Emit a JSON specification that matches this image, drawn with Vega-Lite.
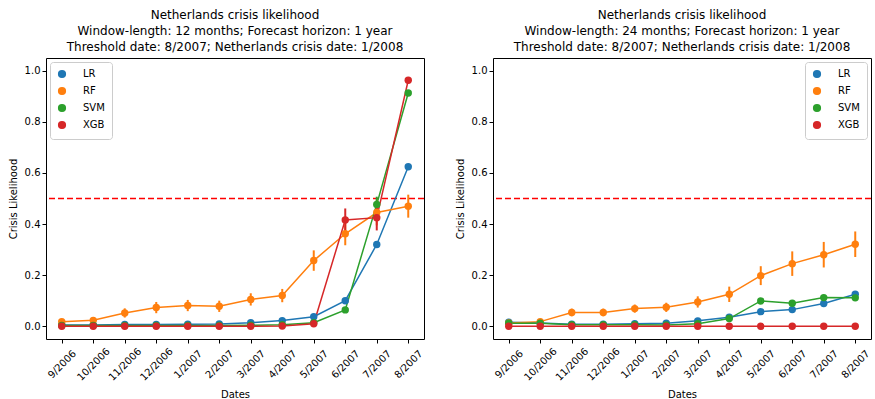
{
  "$schema": "https://vega.github.io/schema/vega-lite/v6.json",
  "padding": {"left": 7, "top": 8, "right": 0, "bottom": 0},
  "spacing": 28,
  "config": {
    "font": "DejaVu Sans",
    "view": {"stroke": "black", "strokeWidth": 1},
    "axis": {"grid": false, "domain": false, "tickColor": "black", "tickSize": 4, "labelColor": "black", "labelFontSize": 10, "titleFontSize": 10, "titleFontWeight": "normal", "titleColor": "black", "labelFont": "DejaVu Sans", "titleFont": "DejaVu Sans"},
    "title": {"fontSize": 12, "fontWeight": "normal", "color": "black", "lineHeight": 16, "font": "DejaVu Sans", "offset": 4},
    "legend": {"labelFontSize": 10, "labelFont": "DejaVu Sans", "labelColor": "black", "symbolType": "circle", "symbolSize": 45, "strokeColor": "#cccccc", "fillColor": "white", "padding": 7, "cornerRadius": 3, "rowPadding": 3, "offset": 4, "labelOffset": 16}
  },
  "datasets": {
    "thr": [{"t": 0.5}],
    "rows": [
      {"p":"a","d":"9/2006","m":"LR","v":0.005,"lo":0.005,"hi":0.005},
      {"p":"a","d":"10/2006","m":"LR","v":0.005,"lo":0.005,"hi":0.005},
      {"p":"a","d":"11/2006","m":"LR","v":0.007,"lo":0.007,"hi":0.007},
      {"p":"a","d":"12/2006","m":"LR","v":0.007,"lo":0.007,"hi":0.007},
      {"p":"a","d":"1/2007","m":"LR","v":0.008,"lo":0.008,"hi":0.008},
      {"p":"a","d":"2/2007","m":"LR","v":0.009,"lo":0.009,"hi":0.009},
      {"p":"a","d":"3/2007","m":"LR","v":0.014,"lo":0.014,"hi":0.014},
      {"p":"a","d":"4/2007","m":"LR","v":0.022,"lo":0.022,"hi":0.022},
      {"p":"a","d":"5/2007","m":"LR","v":0.037,"lo":0.037,"hi":0.037},
      {"p":"a","d":"6/2007","m":"LR","v":0.100,"lo":0.100,"hi":0.100},
      {"p":"a","d":"7/2007","m":"LR","v":0.320,"lo":0.320,"hi":0.320},
      {"p":"a","d":"8/2007","m":"LR","v":0.624,"lo":0.624,"hi":0.624},
      {"p":"a","d":"9/2006","m":"RF","v":0.018,"lo":0.010,"hi":0.026},
      {"p":"a","d":"10/2006","m":"RF","v":0.023,"lo":0.013,"hi":0.033},
      {"p":"a","d":"11/2006","m":"RF","v":0.052,"lo":0.034,"hi":0.070},
      {"p":"a","d":"12/2006","m":"RF","v":0.073,"lo":0.051,"hi":0.095},
      {"p":"a","d":"1/2007","m":"RF","v":0.081,"lo":0.059,"hi":0.103},
      {"p":"a","d":"2/2007","m":"RF","v":0.078,"lo":0.056,"hi":0.100},
      {"p":"a","d":"3/2007","m":"RF","v":0.105,"lo":0.081,"hi":0.129},
      {"p":"a","d":"4/2007","m":"RF","v":0.120,"lo":0.094,"hi":0.146},
      {"p":"a","d":"5/2007","m":"RF","v":0.257,"lo":0.217,"hi":0.297},
      {"p":"a","d":"6/2007","m":"RF","v":0.362,"lo":0.317,"hi":0.407},
      {"p":"a","d":"7/2007","m":"RF","v":0.445,"lo":0.395,"hi":0.495},
      {"p":"a","d":"8/2007","m":"RF","v":0.470,"lo":0.425,"hi":0.515},
      {"p":"a","d":"9/2006","m":"SVM","v":0.003,"lo":0.003,"hi":0.003},
      {"p":"a","d":"10/2006","m":"SVM","v":0.003,"lo":0.003,"hi":0.003},
      {"p":"a","d":"11/2006","m":"SVM","v":0.003,"lo":0.003,"hi":0.003},
      {"p":"a","d":"12/2006","m":"SVM","v":0.003,"lo":0.003,"hi":0.003},
      {"p":"a","d":"1/2007","m":"SVM","v":0.003,"lo":0.003,"hi":0.003},
      {"p":"a","d":"2/2007","m":"SVM","v":0.003,"lo":0.003,"hi":0.003},
      {"p":"a","d":"3/2007","m":"SVM","v":0.004,"lo":0.004,"hi":0.004},
      {"p":"a","d":"4/2007","m":"SVM","v":0.006,"lo":0.006,"hi":0.006},
      {"p":"a","d":"5/2007","m":"SVM","v":0.014,"lo":0.014,"hi":0.014},
      {"p":"a","d":"6/2007","m":"SVM","v":0.064,"lo":0.060,"hi":0.068},
      {"p":"a","d":"7/2007","m":"SVM","v":0.477,"lo":0.447,"hi":0.507},
      {"p":"a","d":"8/2007","m":"SVM","v":0.913,"lo":0.905,"hi":0.921},
      {"p":"a","d":"9/2006","m":"XGB","v":0.0,"lo":0.0,"hi":0.0},
      {"p":"a","d":"10/2006","m":"XGB","v":0.0,"lo":0.0,"hi":0.0},
      {"p":"a","d":"11/2006","m":"XGB","v":0.0,"lo":0.0,"hi":0.0},
      {"p":"a","d":"12/2006","m":"XGB","v":0.0,"lo":0.0,"hi":0.0},
      {"p":"a","d":"1/2007","m":"XGB","v":0.0,"lo":0.0,"hi":0.0},
      {"p":"a","d":"2/2007","m":"XGB","v":0.0,"lo":0.0,"hi":0.0},
      {"p":"a","d":"3/2007","m":"XGB","v":0.0,"lo":0.0,"hi":0.0},
      {"p":"a","d":"4/2007","m":"XGB","v":0.001,"lo":0.001,"hi":0.001},
      {"p":"a","d":"5/2007","m":"XGB","v":0.010,"lo":0.006,"hi":0.014},
      {"p":"a","d":"6/2007","m":"XGB","v":0.416,"lo":0.371,"hi":0.461},
      {"p":"a","d":"7/2007","m":"XGB","v":0.425,"lo":0.375,"hi":0.475},
      {"p":"a","d":"8/2007","m":"XGB","v":0.963,"lo":0.955,"hi":0.971},
      {"p":"b","d":"9/2006","m":"LR","v":0.016,"lo":0.016,"hi":0.016},
      {"p":"b","d":"10/2006","m":"LR","v":0.013,"lo":0.013,"hi":0.013},
      {"p":"b","d":"11/2006","m":"LR","v":0.008,"lo":0.008,"hi":0.008},
      {"p":"b","d":"12/2006","m":"LR","v":0.008,"lo":0.008,"hi":0.008},
      {"p":"b","d":"1/2007","m":"LR","v":0.010,"lo":0.010,"hi":0.010},
      {"p":"b","d":"2/2007","m":"LR","v":0.012,"lo":0.012,"hi":0.012},
      {"p":"b","d":"3/2007","m":"LR","v":0.021,"lo":0.021,"hi":0.021},
      {"p":"b","d":"4/2007","m":"LR","v":0.035,"lo":0.035,"hi":0.035},
      {"p":"b","d":"5/2007","m":"LR","v":0.057,"lo":0.057,"hi":0.057},
      {"p":"b","d":"6/2007","m":"LR","v":0.065,"lo":0.065,"hi":0.065},
      {"p":"b","d":"7/2007","m":"LR","v":0.089,"lo":0.089,"hi":0.089},
      {"p":"b","d":"8/2007","m":"LR","v":0.125,"lo":0.125,"hi":0.125},
      {"p":"b","d":"9/2006","m":"RF","v":0.013,"lo":0.008,"hi":0.018},
      {"p":"b","d":"10/2006","m":"RF","v":0.018,"lo":0.012,"hi":0.024},
      {"p":"b","d":"11/2006","m":"RF","v":0.054,"lo":0.039,"hi":0.069},
      {"p":"b","d":"12/2006","m":"RF","v":0.054,"lo":0.039,"hi":0.069},
      {"p":"b","d":"1/2007","m":"RF","v":0.069,"lo":0.053,"hi":0.085},
      {"p":"b","d":"2/2007","m":"RF","v":0.074,"lo":0.056,"hi":0.092},
      {"p":"b","d":"3/2007","m":"RF","v":0.095,"lo":0.073,"hi":0.117},
      {"p":"b","d":"4/2007","m":"RF","v":0.125,"lo":0.095,"hi":0.155},
      {"p":"b","d":"5/2007","m":"RF","v":0.198,"lo":0.161,"hi":0.235},
      {"p":"b","d":"6/2007","m":"RF","v":0.245,"lo":0.197,"hi":0.293},
      {"p":"b","d":"7/2007","m":"RF","v":0.280,"lo":0.230,"hi":0.330},
      {"p":"b","d":"8/2007","m":"RF","v":0.321,"lo":0.271,"hi":0.371},
      {"p":"b","d":"9/2006","m":"SVM","v":0.012,"lo":0.012,"hi":0.012},
      {"p":"b","d":"10/2006","m":"SVM","v":0.012,"lo":0.012,"hi":0.012},
      {"p":"b","d":"11/2006","m":"SVM","v":0.006,"lo":0.006,"hi":0.006},
      {"p":"b","d":"12/2006","m":"SVM","v":0.006,"lo":0.006,"hi":0.006},
      {"p":"b","d":"1/2007","m":"SVM","v":0.006,"lo":0.006,"hi":0.006},
      {"p":"b","d":"2/2007","m":"SVM","v":0.005,"lo":0.005,"hi":0.005},
      {"p":"b","d":"3/2007","m":"SVM","v":0.010,"lo":0.010,"hi":0.010},
      {"p":"b","d":"4/2007","m":"SVM","v":0.030,"lo":0.030,"hi":0.030},
      {"p":"b","d":"5/2007","m":"SVM","v":0.099,"lo":0.097,"hi":0.101},
      {"p":"b","d":"6/2007","m":"SVM","v":0.090,"lo":0.088,"hi":0.092},
      {"p":"b","d":"7/2007","m":"SVM","v":0.112,"lo":0.110,"hi":0.114},
      {"p":"b","d":"8/2007","m":"SVM","v":0.111,"lo":0.109,"hi":0.113},
      {"p":"b","d":"9/2006","m":"XGB","v":0.0,"lo":0.0,"hi":0.0},
      {"p":"b","d":"10/2006","m":"XGB","v":0.0,"lo":0.0,"hi":0.0},
      {"p":"b","d":"11/2006","m":"XGB","v":0.0,"lo":0.0,"hi":0.0},
      {"p":"b","d":"12/2006","m":"XGB","v":0.0,"lo":0.0,"hi":0.0},
      {"p":"b","d":"1/2007","m":"XGB","v":0.0,"lo":0.0,"hi":0.0},
      {"p":"b","d":"2/2007","m":"XGB","v":0.0,"lo":0.0,"hi":0.0},
      {"p":"b","d":"3/2007","m":"XGB","v":0.0,"lo":0.0,"hi":0.0},
      {"p":"b","d":"4/2007","m":"XGB","v":0.0,"lo":0.0,"hi":0.0},
      {"p":"b","d":"5/2007","m":"XGB","v":0.0,"lo":0.0,"hi":0.0},
      {"p":"b","d":"6/2007","m":"XGB","v":0.0,"lo":0.0,"hi":0.0},
      {"p":"b","d":"7/2007","m":"XGB","v":0.0,"lo":0.0,"hi":0.0},
      {"p":"b","d":"8/2007","m":"XGB","v":0.0,"lo":0.0,"hi":0.0}
    ]
  },
  "resolve": {"scale": {"color": "independent", "x": "independent", "y": "independent"}, "legend": {"color": "independent"}},
  "hconcat": [
    {
      "width": 378, "height": 281,
      "title": {"text": ["Netherlands crisis likelihood", "Window-length: 12 months; Forecast horizon: 1 year", "Threshold date: 8/2007; Netherlands crisis date: 1/2008"]},
      "layer": [
        {"data": {"name": "thr"}, "mark": {"type": "rule", "color": "#ff0000", "strokeDash": [6, 3], "strokeWidth": 1.3}, "encoding": {"y": {"field": "t", "type": "quantitative"}}},
        {"data": {"name": "rows"}, "transform": [{"filter": "datum.p === 'a'"}],
         "encoding": {
           "x": {"field": "d", "type": "ordinal", "sort": null, "scale": {"type": "point", "padding": 0.5}, "axis": {"title": "Dates", "labelAngle": -45, "labelAlign": "center", "labelBaseline": "middle", "labelPadding": 21, "titlePadding": 7}},
           "color": {"field": "m", "type": "nominal", "scale": {"domain": ["LR", "RF", "SVM", "XGB"], "range": ["#1f77b4", "#ff7f0e", "#2ca02c", "#d62728"]}, "legend": {"title": null, "orient": "top-left"}}
         },
         "layer": [
           {"mark": {"type": "line", "strokeWidth": 1.5}, "encoding": {"y": {"field": "v", "type": "quantitative"}}},
           {"mark": {"type": "rule", "strokeWidth": 2}, "encoding": {"y": {"field": "lo", "type": "quantitative"}, "y2": {"field": "hi"}}},
           {"mark": {"type": "point", "filled": true, "size": 55, "opacity": 1}, "encoding": {"y": {"field": "v", "type": "quantitative"}}}
         ]
        }
      ],
      "encoding": {"y": {"type": "quantitative", "scale": {"domain": [-0.05, 1.05], "nice": false, "zero": false}, "axis": {"title": "Crisis Likelihood", "values": [0, 0.2, 0.4, 0.6, 0.8, 1.0], "format": ".1f", "titlePadding": 6}}}
    },
    {
      "width": 378, "height": 281,
      "title": {"text": ["Netherlands crisis likelihood", "Window-length: 24 months; Forecast horizon: 1 year", "Threshold date: 8/2007; Netherlands crisis date: 1/2008"]},
      "layer": [
        {"data": {"name": "thr"}, "mark": {"type": "rule", "color": "#ff0000", "strokeDash": [6, 3], "strokeWidth": 1.3}, "encoding": {"y": {"field": "t", "type": "quantitative"}}},
        {"data": {"name": "rows"}, "transform": [{"filter": "datum.p === 'b'"}],
         "encoding": {
           "x": {"field": "d", "type": "ordinal", "sort": null, "scale": {"type": "point", "padding": 0.5}, "axis": {"title": "Dates", "labelAngle": -45, "labelAlign": "center", "labelBaseline": "middle", "labelPadding": 21, "titlePadding": 7}},
           "color": {"field": "m", "type": "nominal", "scale": {"domain": ["LR", "RF", "SVM", "XGB"], "range": ["#1f77b4", "#ff7f0e", "#2ca02c", "#d62728"]}, "legend": {"title": null, "orient": "top-right"}}
         },
         "layer": [
           {"mark": {"type": "line", "strokeWidth": 1.5}, "encoding": {"y": {"field": "v", "type": "quantitative"}}},
           {"mark": {"type": "rule", "strokeWidth": 2}, "encoding": {"y": {"field": "lo", "type": "quantitative"}, "y2": {"field": "hi"}}},
           {"mark": {"type": "point", "filled": true, "size": 55, "opacity": 1}, "encoding": {"y": {"field": "v", "type": "quantitative"}}}
         ]
        }
      ],
      "encoding": {"y": {"type": "quantitative", "scale": {"domain": [-0.05, 1.05], "nice": false, "zero": false}, "axis": {"title": "Crisis Likelihood", "values": [0, 0.2, 0.4, 0.6, 0.8, 1.0], "format": ".1f", "titlePadding": 6}}}
    }
  ]
}
